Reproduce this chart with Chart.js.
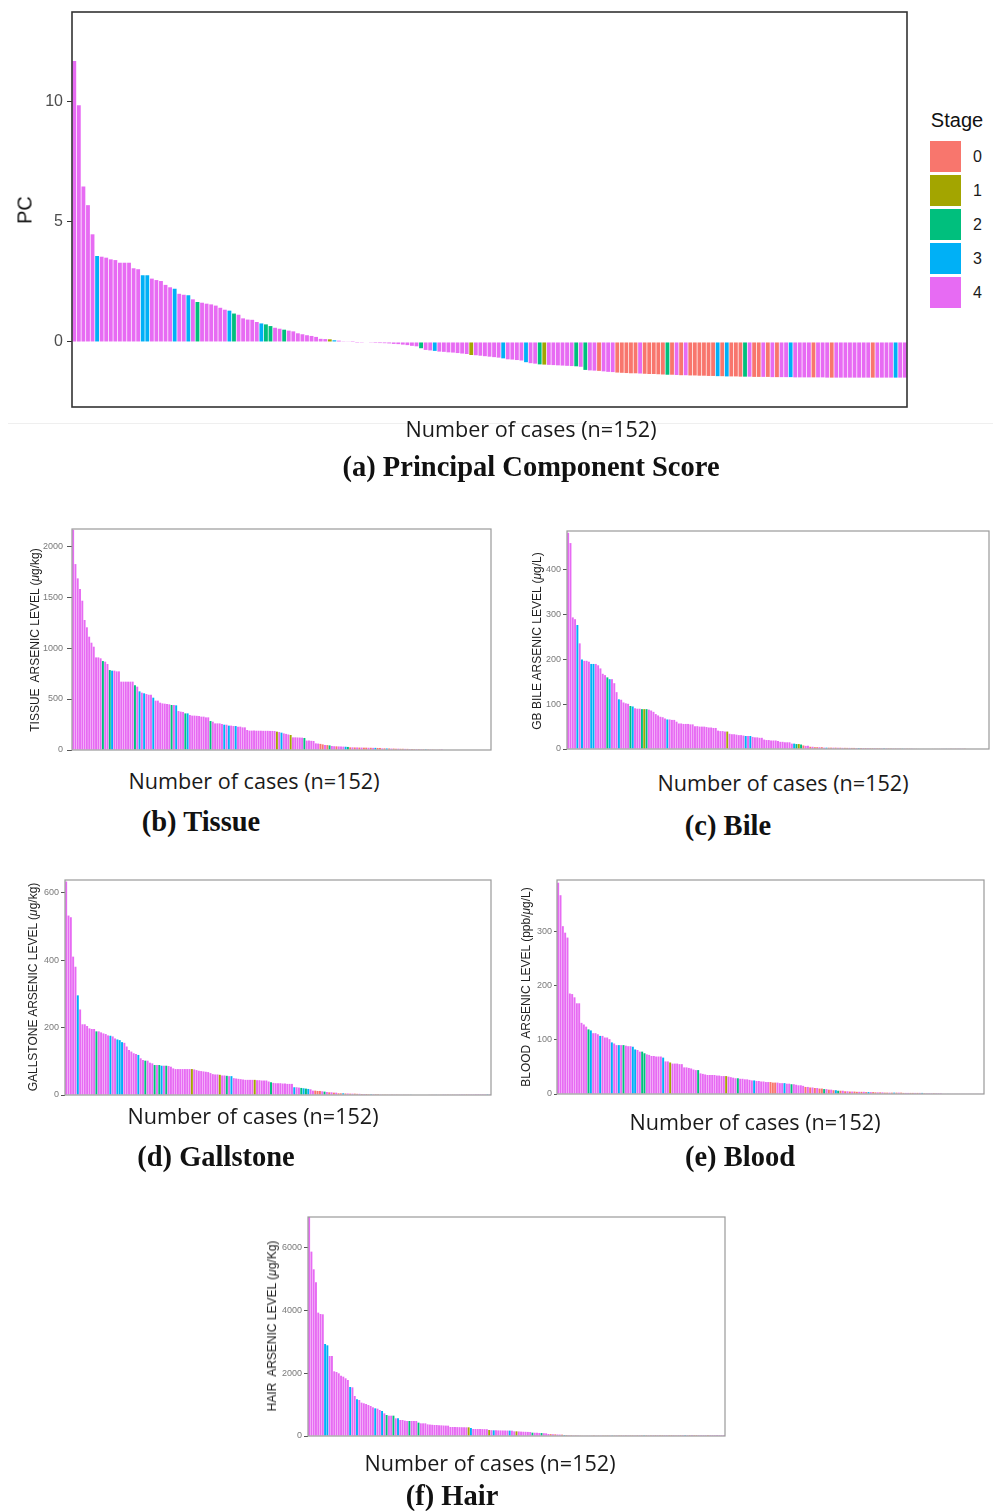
<!DOCTYPE html>
<html><head><meta charset="utf-8">
<script src="https://cdn.jsdelivr.net/npm/chart.js@4.4.0/dist/chart.umd.min.js"></script>
<style>
body{margin:0;background:#fff;width:993px;height:1511px;position:relative;overflow:hidden;font-family:"Liberation Sans",Arial,sans-serif}
.box{position:absolute}
.t{position:absolute;white-space:nowrap;transform:translate(-50%,-50%)}
.rot{position:absolute;white-space:nowrap;transform:translate(-50%,-50%) rotate(-90deg)}
.xl{font-family:"Open Sans",sans-serif;font-size:21.6px;color:#1a1a1a}
.cap{font-family:"Liberation Serif","Times New Roman",serif;font-weight:bold;font-size:28.5px;color:#111}
.yt{font-family:"Liberation Sans",Arial,sans-serif;font-size:12px;color:#222}
.key{position:absolute;left:930px;width:31px;height:31px}
.kl{position:absolute;left:973px;font-size:16px;color:#1a1a1a;transform:translateY(-50%)}
</style></head><body>

<div class="box" style="left:8px;top:0;width:985px;height:423px;border-bottom:1px solid #efefef"></div>

<div id="wa" class="box"><canvas id="ca"></canvas></div>
<div id="wb" class="box"><canvas id="cb"></canvas></div>
<div id="wc" class="box"><canvas id="cc"></canvas></div>
<div id="wd" class="box"><canvas id="cd"></canvas></div>
<div id="we" class="box"><canvas id="ce"></canvas></div>
<div id="wf" class="box"><canvas id="cf"></canvas></div>

<div class="rot" style="left:25px;top:210px;font-size:20px;color:#111">PC</div>
<div class="rot yt" style="left:35px;top:640px">TISSUE&nbsp; ARSENIC LEVEL (<i>μ</i>g/kg)</div>
<div class="rot yt" style="left:537px;top:641px">GB BILE ARSENIC LEVEL (<i>μ</i>g/L)</div>
<div class="rot yt" style="left:33px;top:987px">GALLSTONE ARSENIC LEVEL (<i>μ</i>g/kg)</div>
<div class="rot yt" style="left:526px;top:987px">BLOOD&nbsp; ARSENIC LEVEL (ppb/<i>μ</i>g/L)</div>
<div class="rot yt" style="left:272px;top:1326px">HAIR&nbsp; ARSENIC LEVEL (<i>μ</i>g/Kg)</div>

<div class="t" style="left:957px;top:120px;font-size:20px;color:#111">Stage</div>
<div class="key" style="top:141px;background:#F8766D"></div><div class="kl" style="top:157px">0</div>
<div class="key" style="top:175px;background:#A3A500"></div><div class="kl" style="top:191px">1</div>
<div class="key" style="top:209px;background:#00BF7D"></div><div class="kl" style="top:225px">2</div>
<div class="key" style="top:243px;background:#00B0F6"></div><div class="kl" style="top:259px">3</div>
<div class="key" style="top:277px;background:#E76BF3"></div><div class="kl" style="top:293px">4</div>

<div class="t xl" style="left:531px;top:428px">Number of cases (n=152)</div>
<div class="t cap" style="left:531px;top:467px">(a) Principal Component Score</div>
<div class="t xl" style="left:254px;top:780px">Number of cases (n=152)</div>
<div class="t cap" style="left:201px;top:822px">(b) Tissue</div>
<div class="t xl" style="left:783px;top:782px">Number of cases (n=152)</div>
<div class="t cap" style="left:728px;top:826px">(c) Bile</div>
<div class="t xl" style="left:253px;top:1115px">Number of cases (n=152)</div>
<div class="t cap" style="left:216px;top:1157px">(d) Gallstone</div>
<div class="t xl" style="left:755px;top:1121px">Number of cases (n=152)</div>
<div class="t cap" style="left:740px;top:1157px">(e) Blood</div>
<div class="t xl" style="left:490px;top:1462px">Number of cases (n=152)</div>
<div class="t cap" style="left:452px;top:1496px">(f) Hair</div>

<script>
// ---------- DATA ----------
const stageNames = ["0", "1", "2", "3", "4"];
const stageColors = ["#F8766D", "#A3A500", "#00BF7D", "#00B0F6", "#E76BF3"];

const pcTicks = [0, 5, 10];
const tissueTicks = [0, 500, 1000, 1500, 2000];
const bileTicks = [0, 100, 200, 300, 400];
const gallTicks = [0, 200, 400, 600];
const bloodTicks = [0, 100, 200, 300];
const hairTicks = [0, 2000, 4000, 6000];

const pcScore = [
 11.67, 9.83, 6.45, 5.68, 4.47, 3.57, 3.54, 3.50, 3.43, 3.40,
 3.29, 3.29, 3.29, 3.06, 3.02, 2.77, 2.77, 2.63, 2.57, 2.53,
 2.37, 2.27, 2.21, 2.00, 1.96, 1.94, 1.77, 1.66, 1.63, 1.59,
 1.56, 1.51, 1.42, 1.34, 1.30, 1.18, 1.13, 0.98, 0.93, 0.92,
 0.83, 0.77, 0.73, 0.66, 0.59, 0.55, 0.51, 0.47, 0.44, 0.36,
 0.32, 0.28, 0.25, 0.21, 0.13, 0.12, 0.11, 0.07, 0.055, 0.03,
 0.015, 0.005, -0.005, -0.01, -0.02, -0.03, -0.04, -0.045, -0.05, -0.06,
 -0.08, -0.09, -0.11, -0.13, -0.16, -0.18, -0.26, -0.33, -0.35, -0.37,
 -0.40, -0.41, -0.43, -0.44, -0.46, -0.48, -0.50, -0.54, -0.55, -0.57,
 -0.59, -0.61, -0.63, -0.65, -0.68, -0.72, -0.73, -0.75, -0.77, -0.84,
 -0.88, -0.90, -0.93, -0.94, -0.95, -0.96, -0.97, -0.98, -0.99, -1.00,
 -1.01, -1.03, -1.16, -1.18, -1.19, -1.20, -1.22, -1.24, -1.25, -1.27,
 -1.28, -1.29, -1.30, -1.30, -1.31, -1.32, -1.33, -1.33, -1.34, -1.35,
 -1.36, -1.36, -1.37, -1.38, -1.38, -1.39, -1.39, -1.40, -1.40, -1.41,
 -1.41, -1.42, -1.42, -1.43, -1.43, -1.43, -1.44, -1.44, -1.44, -1.45,
 -1.45, -1.45, -1.45, -1.46, -1.46, -1.46, -1.46, -1.46, -1.47, -1.47,
 -1.47, -1.47, -1.47, -1.47, -1.47, -1.48, -1.48, -1.48, -1.48, -1.48,
 -1.48, -1.48, -1.48, -1.48, -1.48, -1.48, -1.48, -1.48, -1.48, -1.48,
 -1.48, -1.48, -1.48
];
const stagePC = [
 "4444434444","4444433444","4434434244","4444324444","4322442444",
 "4444441344","4444444444","4444442443","4444444144","4444344443",
 "4421444444","2424404440","0000400000","2040400000","0303000240",
 "0404044344","4404440444","4444404444","344"
].join("");

const tissue = [
 2160, 1823, 1683, 1578, 1464, 1275, 1203, 1111, 1052, 1013,
 908, 908, 899, 872, 866, 843, 784, 778, 778, 771,
 771, 670, 670, 670, 670, 670, 670, 634, 621, 575,
 562, 556, 549, 542, 542, 513, 484, 484, 464, 457,
 454, 451, 448, 441, 441, 438, 382, 376, 373, 359,
 359, 343, 337, 337, 335, 333, 327, 327, 320, 320,
 284, 278, 261, 261, 261, 255, 248, 248, 239, 239,
 235, 235, 229, 229, 222, 222, 196, 190, 190, 190,
 189, 189, 189, 188, 188, 188, 187, 187, 186, 180,
 176, 170, 163, 158, 152, 147, 124, 124, 123, 122,
 121, 118, 92, 92, 90, 88, 65, 63, 60, 55,
 50, 48, 45, 39, 37, 36, 35, 34, 33, 32,
 30, 26, 26, 25, 25, 24, 24, 23, 23, 22,
 22, 21, 21, 20, 20, 16, 16, 15, 15, 14,
 14, 13, 13, 12, 12, 11, 11, 10, 10, 9,
 9, 9, 8, 8, 8, 7, 7, 7, 6, 6,
 3, 2, 0, 0, 0, 0, 0, 0, 0, 0,
 0, 0, 0, 0, 0, 0, 0, 0, 0, 0,
 0, 0, 0
];
const stageTissue = [
 "4444444444","4442442344","4444444243","4344434444","4442434442",
 "3444444444","2444443434","4344444444","4444444441","4344414444",
 "4244444400","4024404443","2040404004","0430040304","0040040400",
 "4040304004","0400404044","4304444404","444"
].join("");

const bile = [
 483, 460, 294, 290, 277, 236, 200, 197, 197, 195,
 190, 190, 190, 187, 180, 168, 165, 160, 156, 156,
 147, 127, 111, 110, 104, 102, 101, 96, 95, 91,
 90, 90, 89, 89, 89, 88, 86, 83, 78, 75,
 72, 71, 68, 66, 66, 65, 65, 61, 57, 57,
 56, 56, 56, 55, 55, 51, 51, 50, 50, 50,
 49, 48, 48, 47, 47, 41, 40, 40, 39, 39,
 34, 33, 33, 32, 31, 31, 30, 29, 29, 29,
 27, 26, 26, 25, 25, 21, 20, 20, 19, 19,
 19, 18, 16, 16, 15, 15, 15, 12, 12, 11,
 11, 10, 8, 7, 7, 5, 5, 4, 4, 4,
 4, 3, 3, 3, 3, 3, 3, 2.8, 2.8, 2.6,
 2.6, 2.5, 2.5, 2.4, 2.4, 2.3, 2.3, 2.2, 2.2, 2.1,
 2.1, 2, 2, 2, 1.9, 1.9, 1.8, 1.8, 1.8, 1.7,
 1.7, 1.7, 1.6, 1.6, 1.6, 1.5, 1.5, 1.5, 1.5, 1.5,
 1.3, 1.3, 1.2, 1.2, 1.2, 1.1, 1.1, 1.1, 1, 1,
 1, 1, 0.9, 0.9, 0.9, 0.9, 0.8, 0.8, 0.8, 0.8,
 0.7, 0.7, 0.7, 0, 0, 0, 0, 0, 0, 0,
 0, 0, 0
];
const stageBile = [
 "4444343444","3344444234","4434444234","4421244444","4443444444",
 "4444444444","4444444441","4444444343","4444444444","4444444432",
 "1204404004","0430040404","0040043040","4004004340","0404034004",
 "4030404400","4044340404","4404044444","444"
].join("");

const gallstone = [
 634, 533, 528, 411, 381, 296, 254, 210, 210, 205,
 198, 196, 196, 189, 189, 186, 183, 181, 177, 176,
 174, 168, 165, 163, 157, 155, 144, 134, 129, 124,
 122, 119, 109, 104, 102, 102, 96, 94, 89, 89,
 89, 87, 87, 87, 86, 84, 79, 77, 77, 77,
 77, 77, 77, 77, 77, 76, 74, 72, 71, 70,
 69, 68, 65, 62, 61, 61, 60, 58, 58, 57,
 56, 56, 50, 49, 48, 47, 46, 45, 45, 45,
 45, 45, 44, 44, 43, 43, 43, 40, 38, 36,
 35, 35, 35, 34, 34, 33, 33, 33, 23, 23,
 22, 21, 20, 19, 18, 17, 13, 13, 12, 12,
 11, 10, 9, 8, 8, 7, 7, 5, 5, 5,
 4.5, 4.5, 4, 4, 4, 3.5, 3.5, 3, 3, 3,
 2.5, 2.5, 2.5, 2.5, 2.5, 2, 2, 2, 2, 2,
 2, 2, 2, 1.8, 1.8, 1.8, 1.8, 1.8, 1.8, 1.8,
 1.5, 1.5, 1.5, 1.5, 1.5, 1.5, 1.2, 1.2, 1.2, 1.2,
 1.2, 1.2, 1, 1, 1, 1, 1, 1, 1, 0.8,
 0.8, 0.8, 0.8, 0.8, 0.8, 0.8, 0.6, 0.6, 0.6, 0.6,
 0.6, 0.6, 0.6
];
const stageGall = [
 "4444434444","4442444443","4433344444","4344244424","2342444444",
 "4444144444","4444441442","4344444444","4144444424","4444444434",
 "4232344000","4240404003","0404004040","0340040004","0400404034",
 "0404004043","4044040444","4404444444","434"
].join("");

const blood = [
 389, 366, 309, 297, 288, 185, 184, 178, 167, 167,
 131, 128, 124, 119, 117, 112, 112, 110, 107, 107,
 104, 104, 101, 95, 93, 90, 90, 90, 90, 89,
 88, 88, 87, 82, 81, 78, 78, 75, 73, 72,
 70, 70, 69, 69, 69, 67, 60, 60, 58, 56,
 56, 56, 55, 55, 49, 49, 48, 47, 45, 44,
 44, 38, 37, 36, 35, 35, 35, 35, 34, 34,
 33, 33, 33, 32, 31, 30, 29, 29, 28, 28,
 27, 27, 26, 25, 25, 24, 24, 23, 23, 22,
 22, 22, 21, 21, 21, 20, 20, 20, 19, 19,
 18, 18, 17, 16, 16, 15, 13, 13, 12, 12,
 11, 11, 10, 10, 9, 9, 8, 8, 7, 7,
 6, 6, 6, 5, 5, 4.5, 4.5, 4.5, 4, 4,
 4, 4, 3.5, 3.5, 3.5, 3.5, 3, 3, 3, 3,
 2.5, 2.5, 2.5, 2.5, 2.5, 2.5, 2.5, 2.5, 2, 2,
 2, 2, 2, 2, 2, 2, 2, 1.5, 1.5, 1.5,
 1.5, 1.5, 1.5, 1.5, 1.5, 0.8, 0.8, 0.8, 0.8, 0.8,
 0.8, 0.8, 0.8, 0.8, 0.8, 0.8, 0.8, 0.8, 0.8, 0.8,
 0.8, 0.8, 0.8
];
const stageBlood = [
 "4444444444","4442344434","4443443424","4433442244","4444434414",
 "4444444444","2444444444","4414444244","4444344444","4000444344",
 "2444440404","0400240403","2040404004","0403400404","0040304004",
 "4004043044","4044444344","4444444444","444"
].join("");

const hair = [
 6990, 5884, 5320, 4905, 3937, 3894, 3884, 2937, 2894, 2554,
 2554, 2064, 2043, 2000, 1926, 1894, 1841, 1788, 1564, 1553,
 1277, 1170, 1149, 1064, 1043, 1021, 990, 958, 915, 883,
 872, 830, 798, 724, 670, 649, 649, 649, 564, 564,
 511, 511, 490, 479, 479, 479, 479, 479, 426, 404,
 404, 404, 372, 365, 358, 351, 351, 345, 340, 335,
 332, 330, 287, 287, 285, 284, 282, 280, 279, 277,
 277, 255, 223, 223, 222, 221, 220, 218, 216, 191,
 186, 181, 180, 179, 178, 176, 175, 173, 172, 170,
 149, 149, 145, 140, 136, 133, 130, 128, 106, 104,
 100, 97, 94, 90, 85, 64, 60, 56, 52, 48,
 45, 43, 32, 30, 28, 27, 25, 24, 22, 21,
 12, 12, 12, 11, 11, 11, 11, 10, 10, 10,
 10, 9, 9, 9, 9, 7, 7, 7, 7, 7,
 7, 7, 7, 6, 6, 6, 6, 6, 6, 6,
 6, 5, 5, 5, 5, 5, 5, 5, 5, 4,
 4, 4, 4, 4, 4, 4, 4, 3, 3, 3,
 3, 3, 3, 3, 3, 2, 2, 2, 2, 2,
 2, 2, 2
];
const stageHair = [
 "4444444334","4444444434","4344444443","4434244243","4444244424",
 "4444444444","4444444444","1344444441","4344444434","4144444424",
 "4424440404","4030404040","0404004040","0043040040","4004040304",
 "0404004400","4040434040","0444404444","444"
].join("");

// ---------- RENDER ----------
const borderPlugin = {
  id: 'panelBorder',
  afterDraw(chart, args, o) {
    const a = chart.chartArea, c = chart.ctx;
    c.save();
    c.strokeStyle = o.color; c.lineWidth = o.width;
    c.strokeRect(a.left, a.top, a.right - a.left, a.bottom - a.top);
    c.restore();
  }
};

function panel(cfg) {
  const padT = 14, padB = 14, padR = 4;
  const plotW = cfg.right - cfg.left, plotH = cfg.bottom - cfg.top;
  const wrap = document.getElementById(cfg.wrap);
  const cw = cfg.W + plotW + padR, ch = plotH + padT + padB;
  wrap.style.left = (cfg.left - cfg.W) + 'px';
  wrap.style.top = (cfg.top - padT) + 'px';
  wrap.style.width = cw + 'px'; wrap.style.height = ch + 'px';
  const cv = document.getElementById(cfg.canvas);
  cv.width = cw; cv.height = ch;
  cv.style.width = cw + 'px'; cv.style.height = ch + 'px';
  const labels = cfg.values.map((_, i) => String(i + 1));
  const colors = cfg.values.map((_, i) => stageColors[+cfg.stages[i]]);
  new Chart(cv, {
    type: 'bar',
    data: { labels, datasets: [{ data: cfg.values, backgroundColor: colors, borderWidth: 0,
      barPercentage: 0.84, categoryPercentage: 1.0 }] },
    options: {
      responsive: false, animation: false, devicePixelRatio: 1,
      layout: { padding: { left: 0, right: padR, top: padT, bottom: padB } },
      plugins: { legend: { display: false }, tooltip: { enabled: false },
        panelBorder: { color: cfg.border, width: cfg.bw } },
      scales: {
        x: { display: false, offset: true },
        y: {
          min: cfg.min, max: cfg.max,
          afterBuildTicks: s => { s.ticks = cfg.ticks.map(v => ({ value: v })); },
          afterFit: s => { s.width = cfg.W; s.paddingTop = 0; s.paddingBottom = 0; },
          border: { display: false },
          grid: { drawOnChartArea: false, drawTicks: true, tickLength: cfg.tickLen,
            color: cfg.tickMark, lineWidth: 1 },
          ticks: { padding: cfg.pad, color: cfg.tickColor,
            callback: v => String(v),
            font: { family: '"Liberation Sans", Arial, sans-serif', size: cfg.font } }
        }
      }
    },
    plugins: [borderPlugin]
  });
}

const small = { min: 0, font: 9, tickColor: '#7a7a7a', tickMark: '#555', border: '#9a9a9a', bw: 1.2, tickLen: 4, pad: 2 };

panel({ wrap: 'wa', canvas: 'ca', values: pcScore, stages: stagePC, left: 72, top: 12, right: 907, bottom: 407,
  W: 72, min: -2.7, max: 13.7, ticks: pcTicks, font: 16, tickColor: '#4d4d4d', tickMark: '#333', border: '#333333', bw: 1.6, tickLen: 5, pad: 4 });
panel(Object.assign({}, small, { wrap: 'wb', canvas: 'cb', values: tissue, stages: stageTissue,
  left: 72, top: 529, right: 491, bottom: 750, W: 72, max: 2167, ticks: tissueTicks, tickLen: 5, pad: 4 }));
panel(Object.assign({}, small, { wrap: 'wc', canvas: 'cc', values: bile, stages: stageBile,
  left: 567, top: 531, right: 989, bottom: 749, W: 45, max: 487, ticks: bileTicks }));
panel(Object.assign({}, small, { wrap: 'wd', canvas: 'cd', values: gallstone, stages: stageGall,
  left: 65, top: 880, right: 491, bottom: 1095, W: 65, max: 638.6, ticks: gallTicks }));
panel(Object.assign({}, small, { wrap: 'we', canvas: 'ce', values: blood, stages: stageBlood,
  left: 557, top: 880, right: 984, bottom: 1094, W: 45, max: 394, ticks: bloodTicks, tickLen: 3 }));
panel(Object.assign({}, small, { wrap: 'wf', canvas: 'cf', values: hair, stages: stageHair,
  left: 308, top: 1217, right: 725, bottom: 1436, W: 60, max: 6989, ticks: hairTicks }));
</script>
</body></html>
